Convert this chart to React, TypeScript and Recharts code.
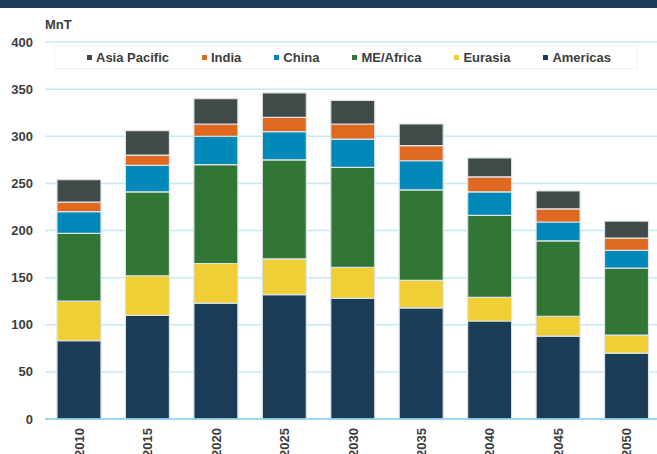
import { BarChart, Bar, XAxis, YAxis, CartesianGrid, Legend } from "recharts";

const years = ["2010", "2015", "2020", "2025", "2030", "2035", "2040", "2045", "2050"];
const americas = [83, 110, 123, 132, 128, 118, 104, 88, 70];
const eurasia = [42, 42, 42, 38, 33, 29, 25, 21, 19];
const meAfrica = [72, 89, 105, 105, 106, 96, 87, 80, 71];
const china = [23, 28, 30, 30, 30, 31, 25, 20, 19];
const india = [10, 11, 13, 15, 16, 16, 16, 14, 13];
const asiaPacific = [24, 26, 27, 26, 25, 23, 20, 19, 18];
const yTicks = [0, 50, 100, 150, 200, 250, 300, 350, 400];

// stacking order, bottom to top
const series = [
  { key: "americas", name: "Americas", color: "#1b3c56", values: americas },
  { key: "eurasia", name: "Eurasia", color: "#f0cf36", values: eurasia },
  { key: "meAfrica", name: "ME/Africa", color: "#317634", values: meAfrica },
  { key: "china", name: "China", color: "#0088b9", values: china },
  { key: "india", name: "India", color: "#e06922", values: india },
  { key: "asiaPacific", name: "Asia Pacific", color: "#3f4a49", values: asiaPacific },
];

const data = years.map((year, i) => {
  const row: Record<string, string | number> = { year };
  series.forEach((s) => (row[s.key] = s.values[i]));
  return row;
});

const font = "'Liberation Sans', Arial, sans-serif";
const textColor = "#3d3d3d";

function YearTick(props: any) {
  const { x, y, payload } = props;
  return (
    <g transform={`translate(${x},${y})`}>
      <text
        transform="rotate(-90)"
        textAnchor="end"
        dy="0.35em"
        fill={textColor}
        fontSize={13}
        fontWeight="bold"
        fontFamily={font}
      >
        {payload.value}
      </text>
    </g>
  );
}

function LegendBox() {
  const items = [...series].reverse();
  return (
    <div
      style={{
        width: 584,
        height: 24,
        border: "1px solid #f3f3f3",
        background: "#fff",
        display: "flex",
        alignItems: "center",
        paddingLeft: 32,
        boxSizing: "border-box",
        fontFamily: font,
        fontSize: 13,
        fontWeight: "bold",
        color: textColor,
        whiteSpace: "nowrap",
      }}
    >
      {items.map((s) => (
        <div key={s.key} style={{ display: "flex", alignItems: "center", marginRight: 33, flexShrink: 0 }}>
          <span style={{ width: 5, height: 5, background: s.color, marginRight: 4, display: "inline-block" }} />
          <span>{s.name}</span>
        </div>
      ))}
    </div>
  );
}

export default function App() {
  return (
    <div style={{ position: "absolute", left: 0, top: 0, width: 657, height: 454, overflow: "hidden", background: "#fff" }}>
      <div style={{ position: "absolute", left: 0, top: 0, width: 657, height: 8, background: "#1c3d57" }} />
      <div
        style={{
          position: "absolute",
          left: 45,
          top: 17,
          fontFamily: font,
          fontSize: 13,
          fontWeight: "bold",
          color: textColor,
        }}
      >
        MnT
      </div>
      <BarChart
        width={665}
        height={454}
        data={data}
        margin={{ top: 42, right: 4, left: 0, bottom: 0 }}
        barCategoryGap="17.5%"
      >
        <CartesianGrid vertical={false} stroke="#c4eaf8" strokeWidth={1.5} />
        <XAxis
          dataKey="year"
          height={35}
          tickLine={false}
          tickMargin={3}
          axisLine={{ stroke: "#86d2ef", strokeWidth: 1.5 }}
          tick={<YearTick />}
          interval={0}
        />
        <YAxis
          width={45}
          domain={[0, 400]}
          ticks={yTicks}
          axisLine={false}
          tickLine={false}
          tickMargin={6}
          tick={{ fill: textColor, fontSize: 13, fontWeight: "bold", fontFamily: font }}
        />
        <Legend
          layout="horizontal"
          verticalAlign="middle"
          align="center"
          wrapperStyle={{ top: 45, left: 54, width: 584 }}
          content={<LegendBox />}
        />
        {series.map((s) => (
          <Bar
            key={s.key}
            dataKey={s.key}
            name={s.name}
            stackId="a"
            fill={s.color}
            stroke="#dde3e7"
            strokeWidth={1.2}
            isAnimationActive={false}
          />
        ))}
      </BarChart>
    </div>
  );
}
